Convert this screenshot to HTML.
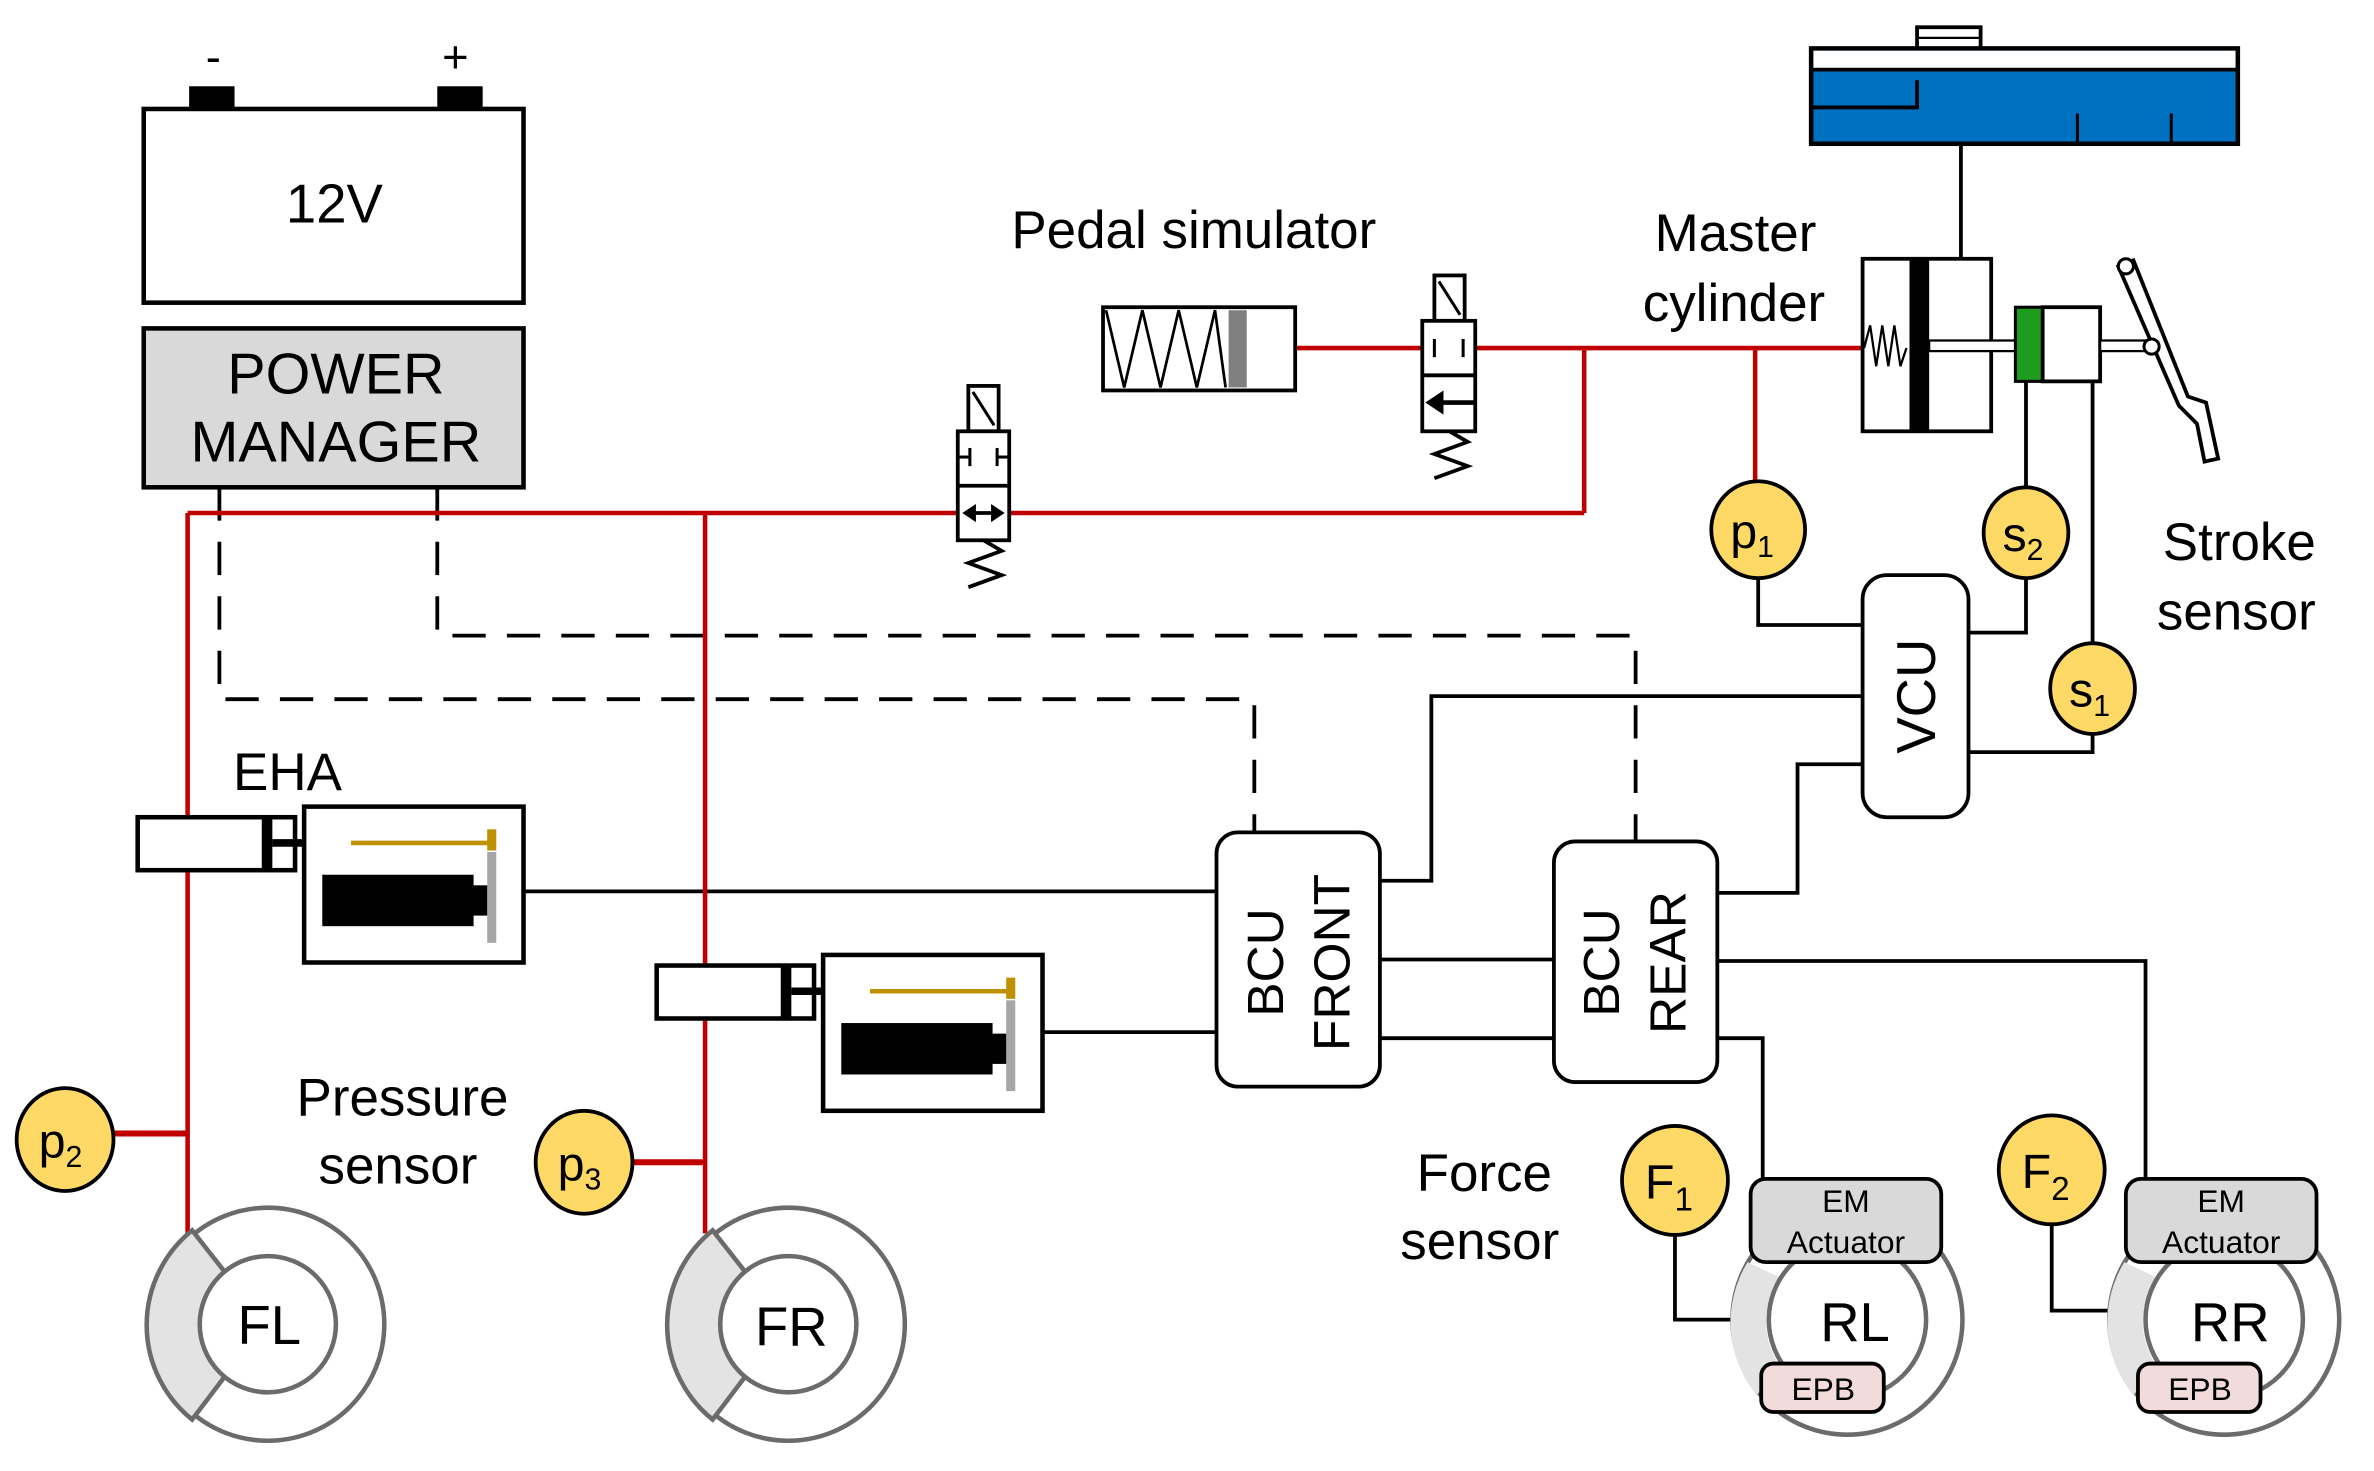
<!DOCTYPE html>
<html><head><meta charset="utf-8"><style>html,body{margin:0;padding:0;background:#fff}svg{display:block}</style></head>
<body>
<svg width="2374" height="1471" viewBox="0 0 1569 972" preserveAspectRatio="none" xmlns="http://www.w3.org/2000/svg" font-family="Liberation Sans, sans-serif">
<defs>
<g id="wheelF">
 <circle r="77" fill="#fff" stroke="#6b6b6b" stroke-width="3"/>
 <path d="M-50,-62 L-28,-34 A45,45 0 0 0 -28,34 L-50,63 A80,80 0 0 1 -50,-62 Z" fill="#e3e3e3" stroke="#6b6b6b" stroke-width="3"/>
 <circle r="45" fill="#fff" stroke="#6b6b6b" stroke-width="3"/>
</g>
<g id="wheelR">
 <circle r="76" fill="#fff" stroke="#6b6b6b" stroke-width="3"/>
 <path d="M-66,-38 L-45,-28 A52,52 0 0 0 -45,30 L-60,50 A76,76 0 0 1 -66,-38 Z" fill="#e3e3e3" stroke="none"/>
 <circle r="52" fill="#fff" stroke="#6b6b6b" stroke-width="3"/>
</g>
<g id="eha">
 <rect x="0" y="0" width="104" height="35" fill="#fff" stroke="#000" stroke-width="3"/>
 <rect x="82" y="0" width="7" height="35" fill="#000"/>
 <line x1="89" y1="17" x2="141" y2="17" stroke="#000" stroke-width="5"/>
 <rect x="110" y="-7" width="145" height="103" fill="#fff" stroke="#000" stroke-width="3"/>
 <line x1="141" y1="17" x2="234" y2="17" stroke="#bf9000" stroke-width="3"/>
 <rect x="231" y="8" width="6" height="14" fill="#bf9000"/>
 <rect x="231" y="23" width="6" height="60" fill="#a6a6a6"/>
 <rect x="122" y="38" width="100" height="34" fill="#000"/>
 <rect x="221" y="45" width="10" height="20" fill="#000"/>
</g>
</defs>

<rect x="125" y="57" width="30" height="15" fill="#000"/>
<rect x="289" y="57" width="30" height="15" fill="#000"/>
<text x="141" y="48" font-size="30" text-anchor="middle">-</text>
<text x="301" y="48" font-size="30" text-anchor="middle">+</text>
<rect x="95" y="72" width="251" height="128" fill="#fff" stroke="#000" stroke-width="3"/>
<text x="221" y="147" font-size="36" text-anchor="middle">12V</text>
<rect x="95" y="217" width="251" height="105" fill="#d9d9d9" stroke="#000" stroke-width="3"/>
<text x="222" y="260" font-size="38" text-anchor="middle">POWER</text>
<text x="222" y="305" font-size="38" text-anchor="middle">MANAGER</text>

<g fill="none" stroke="#000" stroke-width="2.5" stroke-dasharray="22,14">
<polyline points="145,322 145,462 829,462 829,550"/>
<polyline points="289,322 289,420 1081,420 1081,556"/>
</g>

<g fill="none" stroke="#000" stroke-width="2.5">
<line x1="1296" y1="95" x2="1296" y2="171"/>
<polyline points="1162,381 1162,413 1231,413"/>
<polyline points="1339,252 1339,323"/>
<polyline points="1339,381 1339,418 1301,418"/>
<polyline points="1383,252 1383,426"/>
<polyline points="1383,484 1383,497 1301,497"/>
<polyline points="1231,460 946,460 946,582 912,582"/>
<polyline points="1231,505 1188,505 1188,590 1135,590"/>
<line x1="912" y1="634" x2="1027" y2="634"/>
<line x1="912" y1="686" x2="1027" y2="686"/>
<line x1="346" y1="589" x2="804" y2="589"/>
<line x1="690" y1="682" x2="804" y2="682"/>
<polyline points="1135,635 1418,635 1418,779"/>
<polyline points="1135,686 1165,686 1165,779"/>
<polyline points="1107,814 1107,872 1145,872"/>
<polyline points="1356,807 1356,866 1395,866"/>
</g>

<g fill="none" stroke="#c00000" stroke-width="3">
<line x1="124" y1="339" x2="1047" y2="339"/>
<polyline points="1047,339 1047,230"/>
<line x1="856" y1="230" x2="1232" y2="230"/>
<line x1="1160" y1="230" x2="1160" y2="318"/>
<line x1="124" y1="339" x2="124" y2="815"/>
<line x1="466" y1="339" x2="466" y2="815"/>
<line x1="75" y1="749" x2="124" y2="749" stroke-width="4"/>
<line x1="418" y1="768" x2="466" y2="768" stroke-width="4"/>
</g>

<rect x="640" y="255" width="20" height="30" fill="#fff" stroke="#000" stroke-width="2.5"/>
<line x1="643" y1="259" x2="657" y2="281" stroke="#000" stroke-width="2"/>
<rect x="633" y="285" width="34" height="72" fill="#fff" stroke="#000" stroke-width="2.5"/>
<line x1="633" y1="321" x2="667" y2="321" stroke="#000" stroke-width="2.5"/>
<line x1="633" y1="302" x2="641" y2="302" stroke="#000" stroke-width="2"/>
<line x1="659" y1="302" x2="667" y2="302" stroke="#000" stroke-width="2"/>
<line x1="641" y1="296" x2="641" y2="308" stroke="#000" stroke-width="2"/>
<line x1="659" y1="296" x2="659" y2="308" stroke="#000" stroke-width="2"/>
<line x1="640" y1="339" x2="660" y2="339" stroke="#000" stroke-width="2.5"/>
<polygon points="636,339 645,333 645,345" fill="#000"/>
<polygon points="664,339 655,333 655,345" fill="#000"/>
<polyline points="650,357 662,364 640,372 662,380 640,388" fill="none" stroke="#000" stroke-width="2.5"/>

<rect x="948" y="182" width="20" height="30" fill="#fff" stroke="#000" stroke-width="2.5"/>
<line x1="951" y1="186" x2="965" y2="208" stroke="#000" stroke-width="2"/>
<rect x="940" y="212" width="35" height="73" fill="#fff" stroke="#000" stroke-width="2.5"/>
<line x1="940" y1="248" x2="975" y2="248" stroke="#000" stroke-width="2.5"/>
<line x1="948" y1="224" x2="948" y2="236" stroke="#000" stroke-width="2"/>
<line x1="967" y1="224" x2="967" y2="236" stroke="#000" stroke-width="2"/>
<line x1="950" y1="266" x2="975" y2="266" stroke="#000" stroke-width="3"/>
<polygon points="942,266 954,258 954,274" fill="#000"/>
<polyline points="958,285 970,292 948,300 970,308 948,316" fill="none" stroke="#000" stroke-width="2.5"/>

<rect x="729" y="203" width="127" height="55" fill="#fff" stroke="#000" stroke-width="2.5"/>
<polyline points="731,205 743,256 755,205 767,256 779,205 791,256 803,205 810,256" fill="none" stroke="#000" stroke-width="1.8"/>
<rect x="812" y="205" width="12" height="51" fill="#808080"/>

<rect x="1267" y="18" width="42" height="14" fill="#fff" stroke="#000" stroke-width="2.5"/>
<line x1="1267" y1="25" x2="1309" y2="25" stroke="#000" stroke-width="1.5"/>
<rect x="1197" y="32" width="282" height="63" fill="#0070c0" stroke="#000" stroke-width="3"/>
<rect x="1198.5" y="33.5" width="279" height="12" fill="#fff"/>
<line x1="1197" y1="46" x2="1479" y2="46" stroke="#000" stroke-width="2.5"/>
<polyline points="1197,71 1267,71 1267,53" fill="none" stroke="#000" stroke-width="2.5"/>
<line x1="1373" y1="95" x2="1373" y2="75" stroke="#000" stroke-width="2"/>
<line x1="1435" y1="95" x2="1435" y2="75" stroke="#000" stroke-width="2"/>

<rect x="1231" y="171" width="85" height="114" fill="#fff" stroke="#000" stroke-width="2.5"/>
<rect x="1262" y="172" width="13" height="112" fill="#000"/>
<polyline points="1232,230 1236,215 1240,242 1244,215 1248,242 1252,215 1256,242 1260,230" fill="none" stroke="#000" stroke-width="1.5"/>
<rect x="1275" y="225" width="60" height="7" fill="#fff" stroke="#000" stroke-width="1.5"/>
<rect x="1332" y="203" width="18" height="49" fill="#1e9c1e" stroke="#000" stroke-width="2"/>
<rect x="1350" y="203" width="38" height="49" fill="#fff" stroke="#000" stroke-width="2.5"/>
<rect x="1388" y="225" width="34" height="7" fill="#fff" stroke="#000" stroke-width="1.5"/>
<path d="M1400,176 L1410,172 L1446,262 L1458,266 L1466,303 L1457,305 L1452,280 L1440,268 Z" fill="#fff" stroke="#000" stroke-width="2.5"/>
<circle cx="1405" cy="176" r="5" fill="#fff" stroke="#000" stroke-width="2"/>
<circle cx="1422" cy="229" r="5" fill="#fff" stroke="#000" stroke-width="2"/>

<g fill="#ffd966" stroke="#000" stroke-width="2.5">
<ellipse cx="1162" cy="350" rx="31" ry="32"/>
<ellipse cx="1339" cy="352" rx="28" ry="30"/>
<ellipse cx="1383" cy="455" rx="28" ry="30"/>
<ellipse cx="43" cy="753" rx="32" ry="34"/>
<ellipse cx="386" cy="768" rx="32" ry="34"/>
<ellipse cx="1107" cy="780" rx="35" ry="36"/>
<ellipse cx="1356" cy="773" rx="35" ry="36"/>
</g>
<g font-size="32" text-anchor="middle">
<text x="1158" y="362">p<tspan font-size="20" dy="6">1</tspan></text>
<text x="1337" y="364">s<tspan font-size="20" dy="6">2</tspan></text>
<text x="1381" y="467">s<tspan font-size="20" dy="6">1</tspan></text>
<text x="40" y="765">p<tspan font-size="20" dy="6">2</tspan></text>
<text x="383" y="780">p<tspan font-size="20" dy="6">3</tspan></text>
<text x="1103" y="792">F<tspan font-size="22" dy="8">1</tspan></text>
<text x="1352" y="785">F<tspan font-size="22" dy="8">2</tspan></text>
</g>

<rect x="1231" y="380" width="70" height="160" rx="16" fill="#fff" stroke="#000" stroke-width="2.5"/>
<text transform="translate(1279,460) rotate(-90)" font-size="36" text-anchor="middle">VCU</text>
<rect x="804" y="550" width="108" height="168" rx="14" fill="#fff" stroke="#000" stroke-width="2.5"/>
<text transform="translate(848,636) rotate(-90)" font-size="34" text-anchor="middle">BCU</text>
<text transform="translate(892,636) rotate(-90)" font-size="34" text-anchor="middle">FRONT</text>
<rect x="1027" y="556" width="108" height="159" rx="14" fill="#fff" stroke="#000" stroke-width="2.5"/>
<text transform="translate(1070,636) rotate(-90)" font-size="34" text-anchor="middle">BCU</text>
<text transform="translate(1114,636) rotate(-90)" font-size="34" text-anchor="middle">REAR</text>

<use href="#eha" x="91" y="540"/>
<use href="#eha" x="434" y="638"/>

<use href="#wheelF" x="177" y="875"/>
<use href="#wheelF" x="521" y="875"/>
<use href="#wheelR" x="1221" y="872"/>
<use href="#wheelR" x="1470" y="872"/>
<g font-size="36" text-anchor="middle">
<text x="178" y="888">FL</text>
<text x="523" y="889">FR</text>
<text x="1226" y="886">RL</text>
<text x="1474" y="886">RR</text>
</g>
<rect x="1157" y="779" width="126" height="55" rx="10" fill="#d9d9d9" stroke="#000" stroke-width="2.5"/>
<rect x="1405" y="779" width="126" height="55" rx="10" fill="#d9d9d9" stroke="#000" stroke-width="2.5"/>
<g font-size="21" text-anchor="middle">
<text x="1220" y="801">EM</text><text x="1220" y="828">Actuator</text>
<text x="1468" y="801">EM</text><text x="1468" y="828">Actuator</text>
</g>
<rect x="1164" y="901" width="81" height="32" rx="8" fill="#f2dcdb" stroke="#000" stroke-width="2.5"/>
<rect x="1413" y="901" width="81" height="32" rx="8" fill="#f2dcdb" stroke="#000" stroke-width="2.5"/>
<text x="1205" y="925" font-size="21" text-anchor="middle">EPB</text>
<text x="1454" y="925" font-size="21" text-anchor="middle">EPB</text>

<g font-size="35" text-anchor="middle">
<text x="789" y="164">Pedal simulator</text>
<text x="1147" y="166">Master</text>
<text x="1146" y="212">cylinder</text>
<text x="1480" y="370">Stroke</text>
<text x="1478" y="416">sensor</text>
<text x="190" y="522">EHA</text>
<text x="266" y="737">Pressure</text>
<text x="263" y="782">sensor</text>
<text x="981" y="787">Force</text>
<text x="978" y="832">sensor</text>
</g>
</svg>
</body></html>
